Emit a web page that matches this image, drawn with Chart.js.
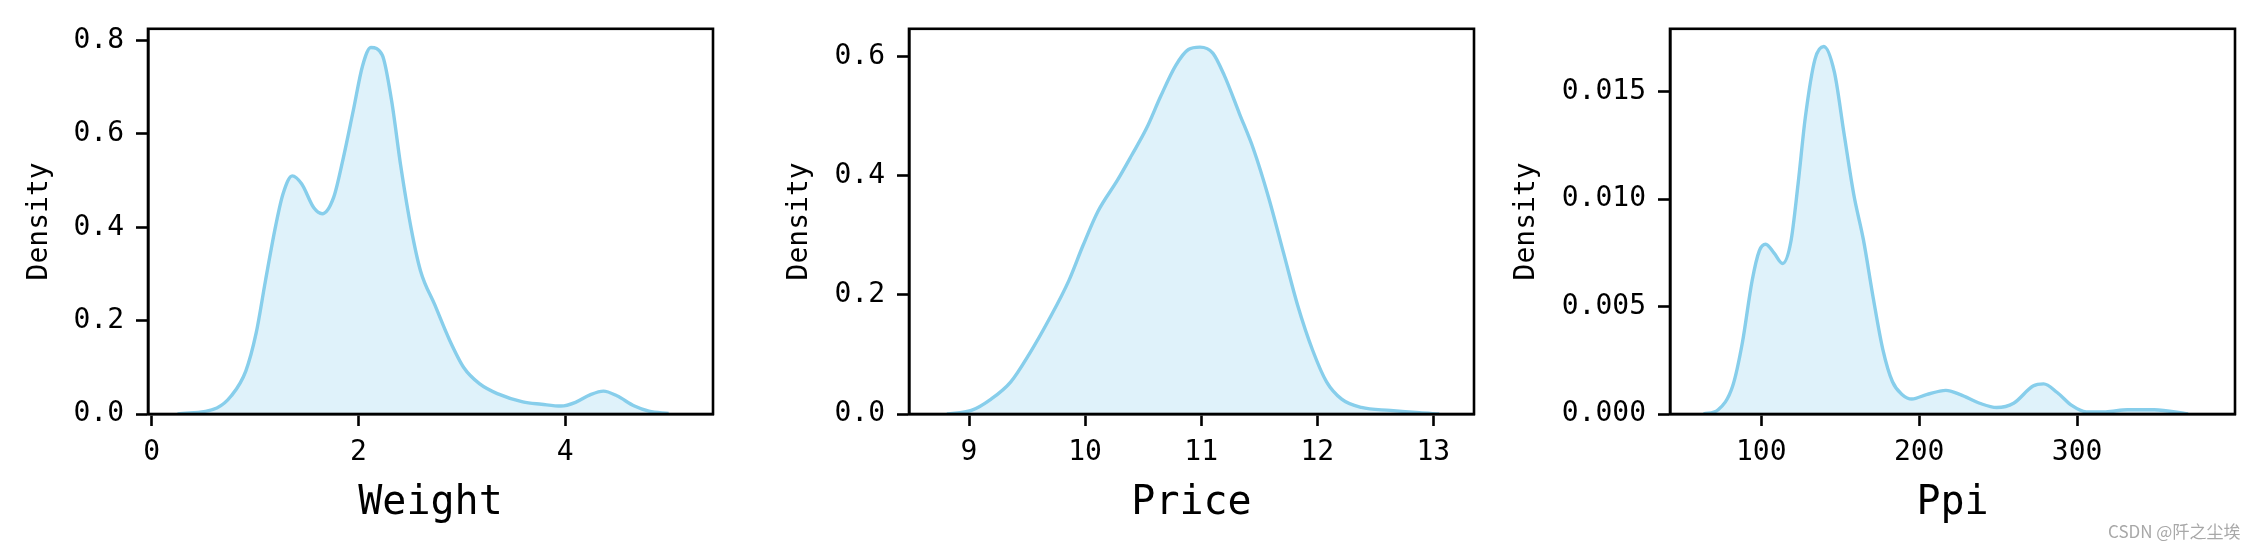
<!DOCTYPE html>
<html>
<head>
<meta charset="utf-8">
<script src="https://cdn.jsdelivr.net/npm/chart.js@4.4.1/dist/chart.umd.min.js"></script>
<style>
    html, body { margin: 0; padding: 0; background: #fff; }
    #wrap { position: relative; width: 2260px; height: 549px; overflow: hidden; }
    #wrap canvas { position: absolute; left: 0; top: 0; }
    #marca { position: absolute; left: 2108px; top: 518px; font: 17px "Noto Sans CJK SC", sans-serif; color: #a8a8a8; white-space: nowrap; }
</style>
</head>
<body>
<div id="wrap">
    <canvas id="weight-chart" width="2260" height="549"></canvas>
    <canvas id="price-chart" width="2260" height="549"></canvas>
    <canvas id="ppi-chart" width="2260" height="549"></canvas>
    <div id="marca">CSDN @阡之尘埃</div>
</div>
<script>
// Weight
const weightX = [0.25, 0.63, 0.77, 0.91, 1.01, 1.10, 1.20, 1.27, 1.36, 1.45, 1.57, 1.65, 1.76, 1.85, 1.95, 2.04, 2.12, 2.23, 2.32, 2.41, 2.51, 2.60, 2.74, 2.88, 3.02, 3.17, 3.35, 3.59, 3.77, 3.96, 4.10, 4.24, 4.37, 4.50, 4.67, 4.81, 5.00];
const weightDensity = [0.000, 0.013, 0.039, 0.092, 0.173, 0.285, 0.404, 0.471, 0.510, 0.493, 0.441, 0.429, 0.464, 0.545, 0.650, 0.746, 0.785, 0.769, 0.672, 0.530, 0.397, 0.307, 0.233, 0.159, 0.099, 0.065, 0.043, 0.026, 0.021, 0.017, 0.025, 0.041, 0.049, 0.039, 0.017, 0.006, 0.001];
const weightXTicks = [0, 2, 4];
const weightYTicks = [0, 0.2, 0.4, 0.6, 0.8];
const weightYLabels = ['0.0', '0.2', '0.4', '0.6', '0.8'];

// Price
const priceX = [8.81, 9.02, 9.19, 9.36, 9.52, 9.69, 9.86, 9.98, 10.11, 10.28, 10.40, 10.53, 10.65, 10.78, 10.89, 10.99, 11.10, 11.20, 11.33, 11.45, 11.58, 11.71, 11.83, 11.96, 12.08, 12.21, 12.38, 12.63, 12.88, 13.05];
const priceDensity = [0.000, 0.006, 0.025, 0.054, 0.101, 0.159, 0.224, 0.282, 0.340, 0.393, 0.434, 0.480, 0.533, 0.585, 0.612, 0.616, 0.606, 0.568, 0.504, 0.445, 0.364, 0.270, 0.183, 0.107, 0.054, 0.025, 0.011, 0.006, 0.002, 0.000];
const priceXTicks = [9, 10, 11, 12, 13];
const priceYTicks = [0, 0.2, 0.4, 0.6];
const priceYLabels = ['0.0', '0.2', '0.4', '0.6'];

// Ppi
const ppiX = [63.5, 72.7, 81.9, 88.0, 94.2, 98.8, 102.8, 108.0, 113.5, 118.7, 123.3, 127.9, 134.0, 139.6, 146.3, 152.5, 158.6, 164.7, 170.9, 177.0, 183.1, 189.3, 195.4, 204.6, 216.9, 226.1, 238.3, 249.1, 259.8, 272.1, 278.8, 287.4, 296.6, 305.8, 318.1, 331.9, 348.8, 370.3];
const ppiDensity = [0.0000, 0.0002, 0.0013, 0.0033, 0.0062, 0.0076, 0.0079, 0.0075, 0.0070, 0.0080, 0.0107, 0.0138, 0.0165, 0.0171, 0.0159, 0.0130, 0.0102, 0.0081, 0.0054, 0.0030, 0.0015, 0.0009, 0.0007, 0.0009, 0.0011, 0.0009, 0.0005, 0.0003, 0.0005, 0.0013, 0.0014, 0.0010, 0.0004, 0.0001, 0.0001, 0.0002, 0.0002, 0.0000];
const ppiXTicks = [100, 200, 300];
const ppiYTicks = [0, 0.005, 0.010, 0.015];
const ppiYLabels = ['0.000', '0.005', '0.010', '0.015'];

const monoFont = '"DejaVu Sans Mono", monospace';

// Moldura do eixo (top + right)
const framePlugin = {
    id: 'frame',
    afterDraw(chart) {
        const a = chart.chartArea;
        const ctx = chart.ctx;
        ctx.save();
        ctx.strokeStyle = '#000';
        ctx.lineWidth = 2.6;
        ctx.strokeRect(a.left, a.top, a.right - a.left, a.bottom - a.top);
        ctx.restore();
    }
};

function criarGraficoKde(canvasId, xs, ys, cfg) {
    const ctx = document.getElementById(canvasId);
    if (!ctx) return null;

    const pontos = xs.map((x, i) => ({ x: x, y: ys[i] }));

    return new Chart(ctx, {
        type: 'line',
        data: {
            datasets: [{
                data: pontos,
                borderColor: '#87CEEB',
                backgroundColor: 'rgba(135, 206, 235, 0.27)',
                borderWidth: 3.4,
                pointRadius: 0,
                cubicInterpolationMode: 'monotone',
                fill: 'origin'
            }]
        },
        options: {
            responsive: false,
            animation: false,
            layout: {
                padding: { left: cfg.offset, right: 2260 - cfg.right, top: 26, bottom: 0 }
            },
            plugins: {
                legend: { display: false },
                tooltip: { enabled: false }
            },
            scales: {
                x: {
                    type: 'linear',
                    min: cfg.xMin,
                    max: cfg.xMax,
                    afterFit: s => { s.height = 135; },
                    afterBuildTicks: s => { s.ticks = cfg.xTicks.map(v => ({ value: v })); },
                    grid: { drawOnChartArea: false, drawTicks: true, tickLength: 12, tickWidth: 2.6, tickColor: '#000' },
                    border: { display: true, color: '#000', width: 2.6 },
                    ticks: {
                        color: '#000',
                        padding: 10,
                        maxRotation: 0,
                        font: { family: monoFont, size: 28 },
                        callback: v => String(v)
                    },
                    title: {
                        display: true,
                        text: cfg.xTitle,
                        color: '#000',
                        font: { family: monoFont, size: 40 },
                        padding: { top: 0, bottom: 21 }
                    }
                },
                y: {
                    min: 0,
                    max: cfg.yMax,
                    afterFit: s => { s.width = cfg.left - cfg.offset; },
                    afterBuildTicks: s => { s.ticks = cfg.yTicks.map(v => ({ value: v })); },
                    grid: { drawOnChartArea: false, drawTicks: true, tickLength: 12, tickWidth: 2.6, tickColor: '#000' },
                    border: { display: true, color: '#000', width: 2.6 },
                    ticks: {
                        color: '#000',
                        padding: 12,
                        font: { family: monoFont, size: 28 },
                        callback: v => {
                            const i = cfg.yTicks.findIndex(t => Math.abs(t - v) < 1e-9);
                            return i >= 0 ? cfg.yLabels[i] : '';
                        }
                    },
                    title: {
                        display: true,
                        text: 'Density',
                        color: '#000',
                        font: { family: monoFont, size: 28 },
                        padding: { top: 23, bottom: 0 }
                    }
                }
            }
        },
        plugins: [framePlugin]
    });
}

function initGraficos() {
    criarGraficoKde('weight-chart', weightX, weightDensity, {
        offset: 0, left: 148, right: 713,
        xMin: -0.036, xMax: 5.43, yMax: 0.825,
        xTicks: weightXTicks, yTicks: weightYTicks, yLabels: weightYLabels,
        xTitle: 'Weight'
    });

    criarGraficoKde('price-chart', priceX, priceDensity, {
        offset: 760, left: 909, right: 1474,
        xMin: 8.483, xMax: 13.35, yMax: 0.6467,
        xTicks: priceXTicks, yTicks: priceYTicks, yLabels: priceYLabels,
        xTitle: 'Price'
    });

    criarGraficoKde('ppi-chart', ppiX, ppiDensity, {
        offset: 1487, left: 1670, right: 2235,
        xMin: 42.2, xMax: 400, yMax: 0.01792,
        xTicks: ppiXTicks, yTicks: ppiYTicks, yLabels: ppiYLabels,
        xTitle: 'Ppi'
    });
}

initGraficos();
</script>
</body>
</html>
